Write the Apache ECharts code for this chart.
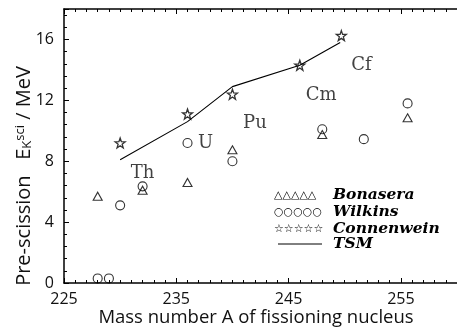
<!DOCTYPE html>
<html><head><meta charset="utf-8">
<script src="https://cdn.jsdelivr.net/npm/echarts@6/dist/echarts.min.js"></script>
<style>html,body{margin:0;padding:0;background:#fff}#c{width:457px;height:329px}</style>
</head><body><div id="c"></div>
<script>
// ---- data ----
const bonaseraA = [228, 232, 236, 240, 248, 255.6];
const bonaseraE = [5.7, 6.1, 6.6, 8.75, 9.75, 10.85];
const wilkinsA = [228, 229, 230, 232, 236, 240, 248, 251.7, 255.6];
const wilkinsE = [0.3, 0.3, 5.1, 6.35, 9.2, 8.0, 10.1, 9.45, 11.8];
const connenA = [230, 236, 240, 246, 249.7];
const connenE = [9.2, 11.1, 12.4, 14.3, 16.25];
const tsmA = [230, 236, 240, 246, 249.6];
const tsmE = [8.1, 10.6, 12.9, 14.3, 15.8];
const elemNames = ['Th', 'U', 'Pu', 'Cm', 'Cf'];
const elemA = [232.0, 237.6, 242.0, 247.9, 251.5];
const elemE = [7.2, 9.2, 10.5, 12.3, 14.3];
const xTicks = [225, 235, 245, 255];
const yTicks = [0, 4, 8, 12, 16];

const zip = (a, b) => a.map((v, i) => [v, b[i]]);
const star = 'path://M0,-10L2.35,-3.24L9.51,-3.09L3.8,1.24L5.88,8.09L0,4L-5.88,8.09L-3.8,1.24L-9.51,-3.09L-2.35,-3.24Z';
const hollow = {color: 'none', borderColor: '#000', borderWidth: 1.1};
const tickFont = {fontFamily: 'Open Sans', fontSize: 16, color: '#111'};

const chart = echarts.init(document.getElementById('c'), null, {renderer: 'canvas'});
chart.setOption({
  animation: false,
  backgroundColor: '#fff',
  grid: {left: 64, top: 9, bottom: 46, right: -20},
  xAxis: [{
    type: 'value', min: 225, max: 260, interval: 10, position: 'bottom',
    axisLine: {lineStyle: {color: '#000', width: 1.5}},
    axisTick: {inside: true, length: 5, lineStyle: {color: '#000'}},
    minorTick: {show: true, splitNumber: 10, length: 3, lineStyle: {color: '#000'}},
    splitLine: {show: false},
    axisLabel: Object.assign({margin: 8, showMaxLabel: false,
      formatter: v => xTicks.includes(v) ? String(v) : ''}, tickFont)
  }, {
    type: 'value', min: 225, max: 260, interval: 10, position: 'top',
    axisLine: {lineStyle: {color: '#000', width: 1.5}},
    axisTick: {inside: true, length: 5, lineStyle: {color: '#000'}},
    minorTick: {show: true, splitNumber: 10, length: 3, lineStyle: {color: '#000'}},
    splitLine: {show: false}, axisLabel: {show: false}
  }],
  yAxis: [{
    type: 'value', min: 0, max: 18, interval: 4,
    axisLine: {lineStyle: {color: '#000', width: 1.5}},
    axisTick: {inside: true, length: 5, lineStyle: {color: '#000'}},
    minorTick: {show: true, splitNumber: 5, length: 3, lineStyle: {color: '#000'}},
    splitLine: {show: false},
    axisLabel: Object.assign({margin: 10, showMaxLabel: false,
      formatter: v => yTicks.includes(v) ? String(v) : ''}, tickFont)
  }],
  series: [
    {name: 'TSM', type: 'line', data: zip(tsmA, tsmE), showSymbol: false, symbol: 'none',
     lineStyle: {color: '#000', width: 1.1}, z: 2},
    {name: 'Bonasera', type: 'scatter', data: zip(bonaseraA, bonaseraE), symbol: 'triangle',
     symbolSize: [9, 8], itemStyle: hollow, z: 3},
    {name: 'Wilkins', type: 'scatter', data: zip(wilkinsA, wilkinsE), symbol: 'circle',
     symbolSize: 9, itemStyle: hollow, z: 3},
    {name: 'Connenwein', type: 'scatter', data: zip(connenA, connenE), symbol: star,
     symbolSize: 10, itemStyle: {color: 'none', borderColor: '#000', borderWidth: 1.3}, z: 3},
    {name: 'elements', type: 'scatter', symbolSize: 0, silent: true,
     data: elemNames.map((n, i) => ({name: n, value: [elemA[i], elemE[i]]})),
     label: {show: true, position: 'inside', formatter: p => p.name,
       fontFamily: 'DejaVu Serif', fontSize: 18, color: '#111'}}
  ],
  graphic: [
    {type: 'text', x: 24, y: 176, rotation: Math.PI / 2, z: 10,
     style: {text: 'Pre-scission   E{sub|K}{sup|sci} / MeV', fontFamily: 'Open Sans', fontSize: 20,
       fill: '#111', align: 'center', verticalAlign: 'middle',
       rich: {sub: {fontSize: 13, fontFamily: 'Open Sans', verticalAlign: 'bottom', lineHeight: 16, fill: '#111'},
              sup: {fontSize: 13, fontFamily: 'Open Sans', verticalAlign: 'top', lineHeight: 16, fill: '#111'}}}},
    {type: 'text', x: 256, y: 318, z: 10,
     style: {text: 'Mass number A of fissioning nucleus', fontFamily: 'Open Sans', fontSize: 18.5,
       fill: '#111', align: 'center', verticalAlign: 'middle'}},
    {type: 'group', left: 274, top: 187, z: 10, children: [
      {type: 'text', x: 0, y: 8, style: {text: '△△△△△', fontFamily: 'DejaVu Sans', fontSize: 11, fill: '#000', verticalAlign: 'middle'}},
      {type: 'text', x: 0, y: 25, style: {text: '○○○○○', fontFamily: 'DejaVu Sans', fontSize: 11, fill: '#000', verticalAlign: 'middle'}},
      {type: 'text', x: 0, y: 42, style: {text: '☆☆☆☆☆', fontFamily: 'DejaVu Sans', fontSize: 11, fill: '#000', verticalAlign: 'middle'}},
      {type: 'line', shape: {x1: 4, y1: 57, x2: 48, y2: 57}, style: {stroke: '#000', lineWidth: 1}},
      {type: 'text', x: 59, y: 8, style: {text: 'Bonasera', fontFamily: 'DejaVu Serif', fontStyle: 'italic', fontWeight: 'bold', fontSize: 15.5, fill: '#000', verticalAlign: 'middle'}},
      {type: 'text', x: 59, y: 25, style: {text: 'Wilkins', fontFamily: 'DejaVu Serif', fontStyle: 'italic', fontWeight: 'bold', fontSize: 15.5, fill: '#000', verticalAlign: 'middle'}},
      {type: 'text', x: 59, y: 42, style: {text: 'Connenwein', fontFamily: 'DejaVu Serif', fontStyle: 'italic', fontWeight: 'bold', fontSize: 15.5, fill: '#000', verticalAlign: 'middle'}},
      {type: 'text', x: 59, y: 57, style: {text: 'TSM', fontFamily: 'DejaVu Serif', fontStyle: 'italic', fontWeight: 'bold', fontSize: 15.5, fill: '#000', verticalAlign: 'middle'}}
    ]}
  ]
});
</script></body></html>
